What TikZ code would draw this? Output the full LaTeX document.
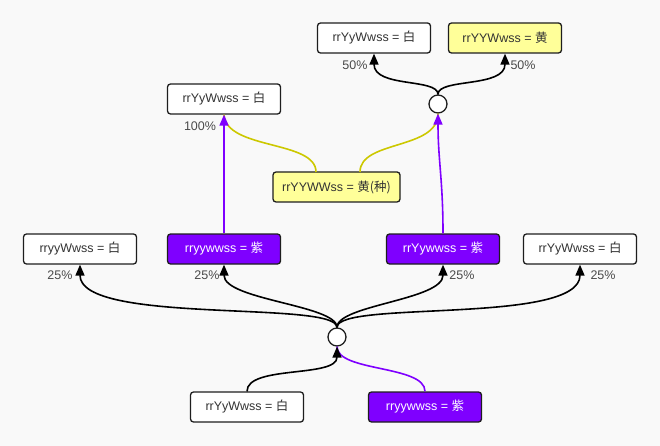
\documentclass[tikz,border=0pt]{standalone}
\usepackage{fontspec}
\setmainfont{Liberation Sans}
\newfontfamily\cjkfont{Noto Sans CJK SC}
\usetikzlibrary{arrows.meta}
\definecolor{bg}{HTML}{F9F9F9}
\definecolor{boxline}{HTML}{1E1E1E}
\definecolor{txt}{HTML}{333333}
\definecolor{pct}{HTML}{4A4A4A}
\definecolor{violet}{HTML}{7F00FF}
\definecolor{lemon}{HTML}{FFFF99}
\definecolor{olive}{HTML}{CCC800}
\tikzset{
  box/.style={draw=boxline, rounded corners=3pt, line width=1.3pt,
    minimum width=113pt, minimum height=30pt, fill=white, text=txt,
    font=\fontsize{12.5}{14}\selectfont, inner sep=0pt},
  whitebox/.style={box},
  yellowbox/.style={box, fill=lemon},
  violetbox/.style={box, fill=violet, text=white},
  cross/.style={circle, draw=boxline, fill=white, line width=1.3pt,
    minimum size=18pt, inner sep=0pt},
  link/.style={line width=1.6pt, draw=black},
  tip/.style={-{Triangle[length=11pt,width=9pt]}},
  vlink/.style={line width=1.6pt, draw=violet},
  ylink/.style={line width=1.6pt, draw=olive},
  ratio/.style={text=pct, font=\fontsize{12.5}{14}\selectfont, inner sep=0pt}
}
\begin{document}
\begin{tikzpicture}[x=1pt,y=-1pt]
\fill[bg] (0,0) rectangle (660,446);
\useasboundingbox (0,0) rectangle (660,446);

% boxes
\node[whitebox]  (b1)  at (374,38)  {rrYyWwss = {\cjkfont 白}};
\node[yellowbox] (b2)  at (505,38)  {rrYYWwss = {\cjkfont 黄}};
\node[whitebox]  (b3)  at (224,99)  {rrYyWwss = {\cjkfont 白}};
\node[yellowbox, minimum width=127pt] (b4) at (336.5,187) {rrYYWWss = {\cjkfont 黄(种)}};
\node[whitebox]  (b5)  at (80,249)  {rryyWwss = {\cjkfont 白}};
\node[violetbox] (b6)  at (224,249) {rryywwss = {\cjkfont 紫}};
\node[violetbox] (b7)  at (443,249) {rrYywwss = {\cjkfont 紫}};
\node[whitebox]  (b8)  at (580,249) {rrYyWwss = {\cjkfont 白}};
\node[whitebox]  (b9)  at (247,407) {rrYyWwss = {\cjkfont 白}};
\node[violetbox] (b10) at (425,407) {rryywwss = {\cjkfont 紫}};

% crossing points
\node[cross] (uc) at (438,104) {};
\node[cross] (lc) at (337,337) {};

\coordinate (y1) at (316,172);
\coordinate (y2) at (360,172);

% parents of the lower cross
\draw[vlink] (b10.north) .. controls (425,365) and (337,372) .. (lc.south);
\draw[link, tip] (b9.north) .. controls (247,365) and (337,378) .. (lc.south);

% offspring of the lower cross
\draw[link, tip] (lc.north) .. controls (337,300) and (80,325) .. (b5.south);
\draw[link, tip] (lc.north) .. controls (337,305) and (224,300) .. (b6.south);
\draw[link, tip] (lc.north) .. controls (337,305) and (443,300) .. (b7.south);
\draw[link, tip] (lc.north) .. controls (337,300) and (580,325) .. (b8.south);

% seed line
\draw[ylink] (y1) .. controls (316,140) and (226,150) .. (b3.south);
\draw[ylink] (y2) .. controls (360,140) and (438,150) .. (uc.south);
\draw[vlink, -{Triangle[length=11pt,width=9pt]}] (b6.north) -- (b3.south);
\draw[vlink, -{Triangle[length=11pt,width=9pt]}] (b7.north) .. controls (443,180) and (438,160) .. (uc.south);

% offspring of the upper cross
\draw[link, tip] (uc.north) .. controls (438,78) and (374,88) .. (b1.south);
\draw[link, tip] (uc.north) .. controls (438,78) and (505,88) .. (b2.south);

% ratios
\node[ratio] (p1) at (355,65)  {50\%};
\node[ratio] (p2) at (523,65)  {50\%};
\node[ratio] (p3) at (200,126) {100\%};
\node[ratio] (p4) at (60,275)  {25\%};
\node[ratio] (p5) at (207,275) {25\%};
\node[ratio] (p6) at (462,275) {25\%};
\node[ratio] (p7) at (603,275) {25\%};
\end{tikzpicture}
\end{document}
